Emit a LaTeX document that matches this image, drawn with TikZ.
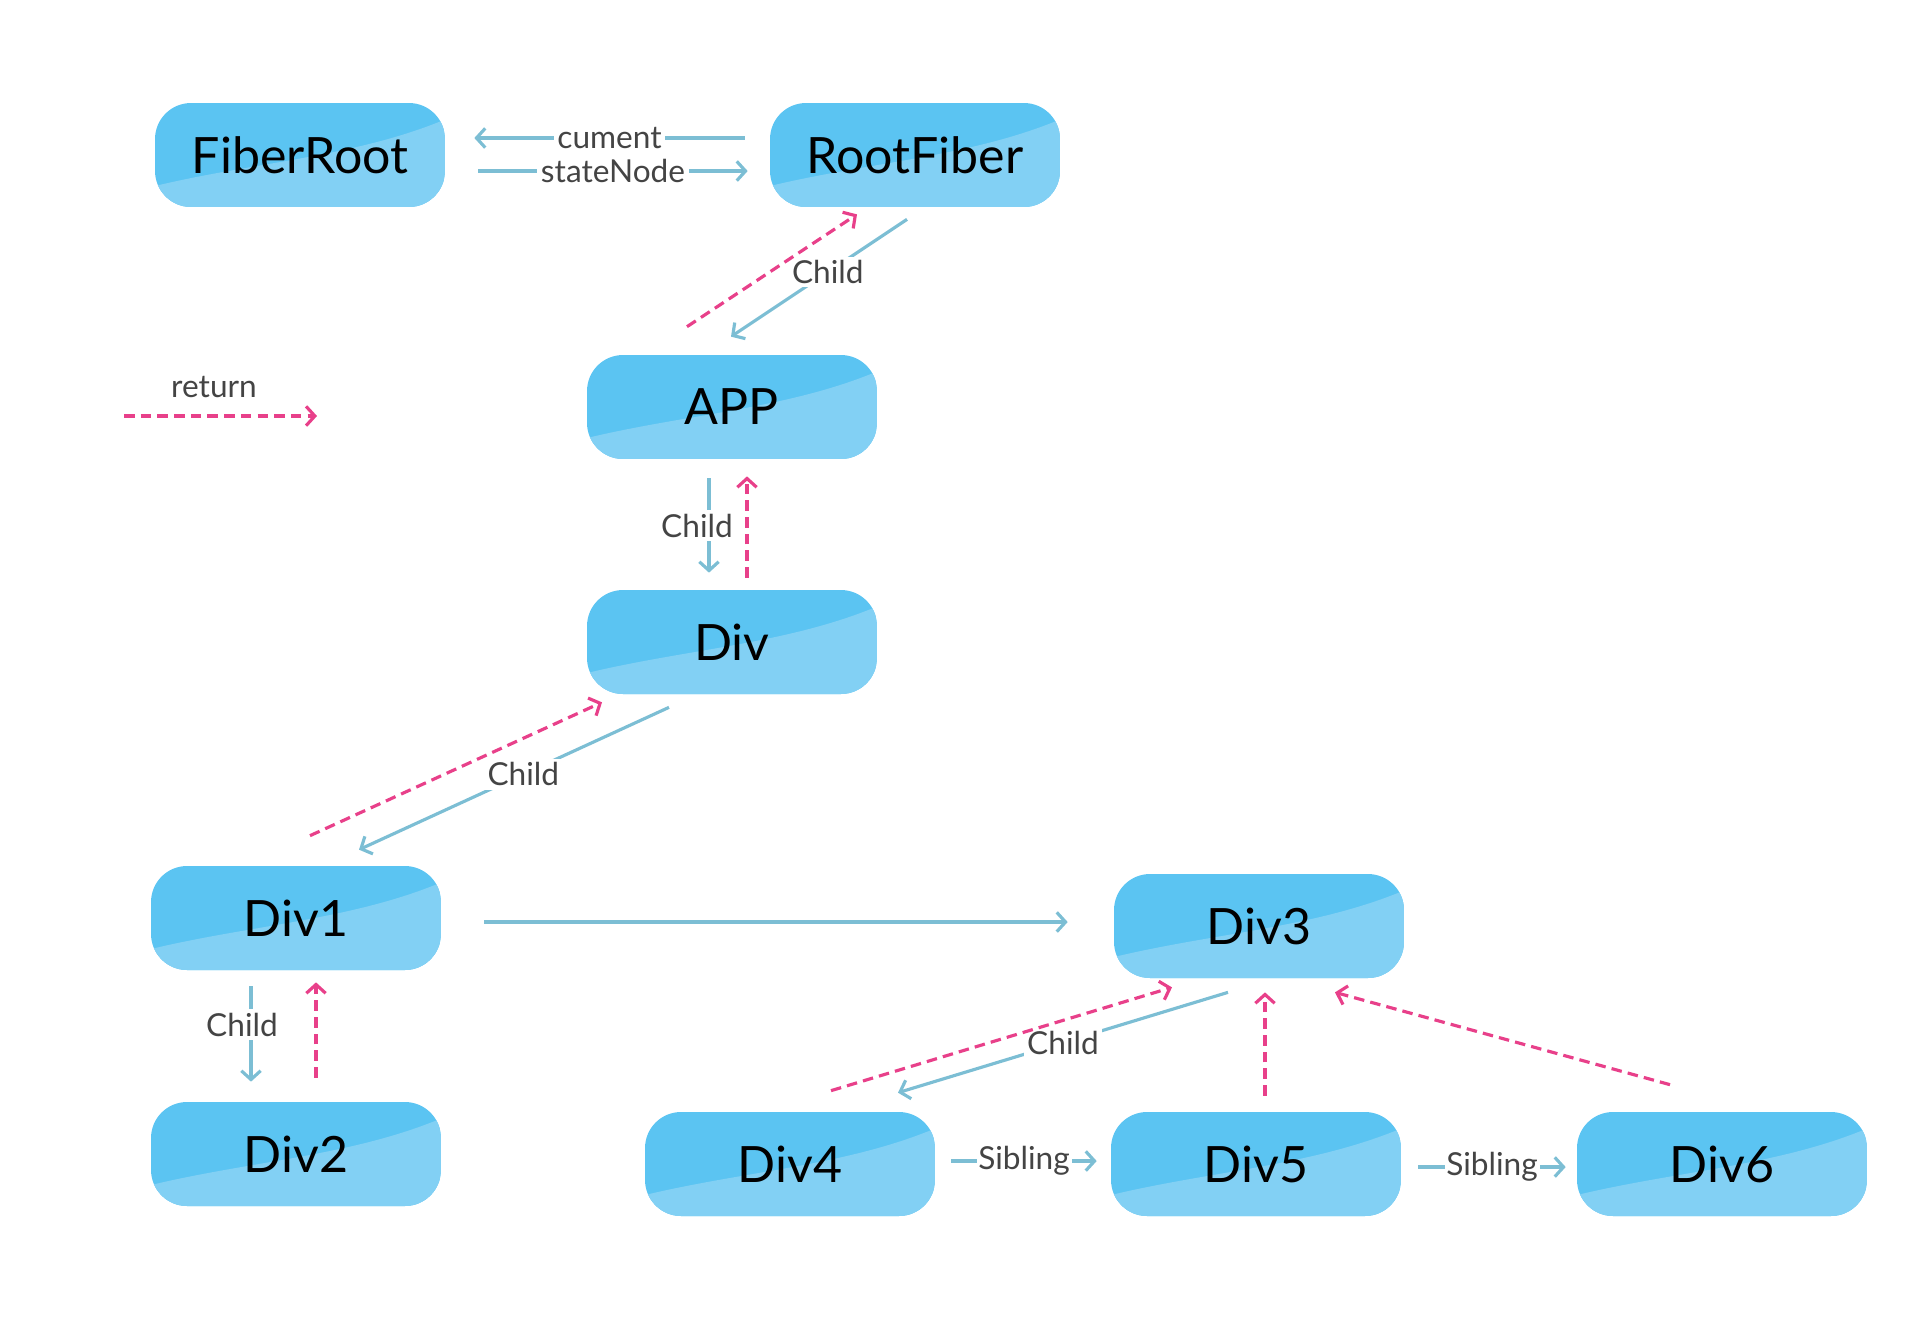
\documentclass[tikz,border=0pt]{standalone}
\usepackage{fontspec}
\setmainfont{Lato}
\usetikzlibrary{arrows.meta,calc}

\definecolor{boxdark}{HTML}{5BC4F2}
\definecolor{boxlight}{HTML}{82D0F4}
\definecolor{linkblue}{HTML}{7CBED4}
\definecolor{backpink}{HTML}{E8408A}
\definecolor{labelgray}{HTML}{444444}

\begin{document}
\begin{tikzpicture}[
  x=0.02cm, y=-0.02cm,
  fiber/.style={rounded corners=0.72cm,minimum width=5.8cm,minimum height=2.08cm,
    inner sep=0pt,fill=boxdark,font=\fontsize{28.5}{34}\selectfont,
    path picture={\fill[boxlight,sharp corners]
      ([yshift=0.42cm]path picture bounding box.south west)
      .. controls ([shift={(2cm,0.9cm)}]path picture bounding box.south west)
      and ([shift={(4cm,1cm)}]path picture bounding box.south west)
      .. ([yshift=-0.33cm]path picture bounding box.north east)
      |- (path picture bounding box.south west) -- cycle;}},
  link/.style={draw=linkblue,line width=1.8pt,-{Straight Barb[length=5pt,width=11pt]}},
  back/.style={draw=backpink,line width=1.8pt,dash pattern=on 6pt off 3.5pt,
    -{Straight Barb[length=5pt,width=11pt]}},
  tag/.style={fill=white,text=labelgray,font=\fontsize{18}{21}\selectfont,inner sep=2pt}
]
  \useasboundingbox (0,0) rectangle (1920,1319);

  % fibers
  \node[fiber] (FiberRoot) at (300,155) {FiberRoot};
  \node[fiber] (RootFiber) at (915,155) {RootFiber};
  \node[fiber] (APP) at (732,407) {APP};
  \node[fiber] (Div) at (732,642) {Div};
  \node[fiber] (Div1) at (296,918) {Div1};
  \node[fiber] (Div2) at (296,1154) {Div2};
  \node[fiber] (Div3) at (1259,926) {Div3};
  \node[fiber] (Div4) at (790,1164) {Div4};
  \node[fiber] (Div5) at (1256,1164) {Div5};
  \node[fiber] (Div6) at (1722,1164) {Div6};

  % legend
  \coordinate (legA) at (124,416);
  \coordinate (legB) at (317,416);
  \node[tag] (legtext) at (214,387) {return};
  \draw[back] (legA) -- (legB);

  % root links
  \draw[link] ($(RootFiber.west)+(-25,-17)$) -- node[tag]{cument} ($(FiberRoot.east)+(29,-17)$);
  \draw[link] ($(FiberRoot.east)+(33,16)$) -- node[tag]{stateNode} ($(RootFiber.west)+(-22,16)$);

  % child links
  \draw[link] ($(RootFiber.south)+(-8,12)$) -- node[tag,pos=.45]{Child} ($(APP.north)+(-1,-18)$);
  \draw[link] ($(APP.south)+(-23,19)$) -- node[tag,xshift=-0.24cm]{Child} ($(Div.north)+(-23,-17)$);
  \draw[link] ($(Div.south)+(-63,13)$) -- node[tag,pos=.47]{Child} ($(Div1.north)+(63,-16)$);
  \draw[link] ($(Div1.south)+(-45,16)$) -- node[tag,pos=.4,xshift=-0.18cm]{Child} ($(Div2.north)+(-45,-20)$);
  \draw[link] ($(Div3.south)+(-31,14)$) -- node[tag,pos=.5]{Child} ($(Div4.north)+(108,-19)$);

  % sibling links
  \draw[link] ($(Div1.east)+(43,4)$) -- ($(Div3.west)+(-46,-4)$);
  \draw[link] ($(Div4.east)+(16,-3)$) -- node[tag,inner sep=1pt]{Sibling} ($(Div5.west)+(-14,-3)$);
  \draw[link] ($(Div5.east)+(17,3)$) -- node[tag,inner sep=1pt]{Sibling} ($(Div6.west)+(-11,3)$);

  % return links
  \draw[back] ($(APP.north)+(-45,-28)$) -- ($(RootFiber.south)+(-58,7)$);
  \draw[back] ($(Div.north)+(15,-12)$) -- ($(APP.south)+(15,17)$);
  \draw[back] ($(Div1.north)+(14,-30)$) -- ($(Div.south)+(-130,8)$);
  \draw[back] ($(Div2.north)+(20,-24)$) -- ($(Div1.south)+(20,12)$);
  \draw[back] ($(Div4.north)+(41,-21)$) -- ($(Div3.south)+(-87,9)$);
  \draw[back] ($(Div5.north)+(9,-16)$) -- ($(Div3.south)+(6,14)$);
  \draw[back] ($(Div6.north)+(-52,-27)$) -- ($(Div3.south)+(76,14)$);
\end{tikzpicture}
\end{document}
